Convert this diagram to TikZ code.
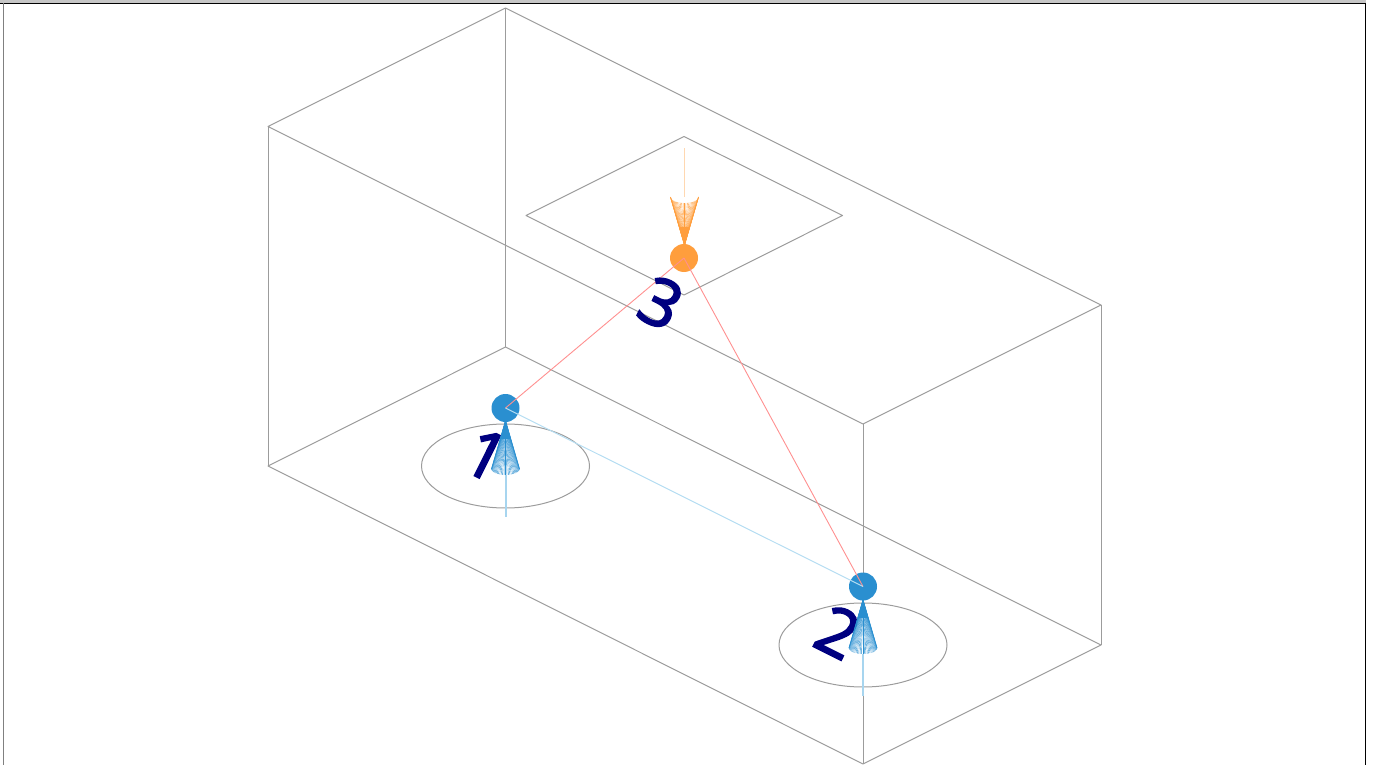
\documentclass[tikz,border=0pt]{standalone}
\usepackage{fontspec}
\setmainfont{Open Sans}
\newfontfamily\digitfont[FakeBold=2.6]{Open Sans}
\definecolor{boxgray}{HTML}{9C9C9C}
\definecolor{sphblue}{HTML}{2A8FD0}
\definecolor{sphorange}{HTML}{FF9E3D}
\definecolor{digitnavy}{HTML}{000080}
\definecolor{redlink}{HTML}{FF9090}
\definecolor{bluelink}{HTML}{B5DDF2}
\tikzset{
  boxline/.style={draw=boxgray,line width=1pt,line join=round},
  sphere/.style={circle,inner sep=0pt,minimum size=28pt,fill=#1},
  digit/.style={text=digitnavy,font=\digitfont\fontsize{66}{66}\selectfont,rotate=-26.5,inner sep=0pt},
  fan/.style={draw=#1,line width=0.4pt},
  stem/.style={draw=#1,line width=1.3pt},
  redline/.style={draw=redlink,line width=0.9pt},
  blueline/.style={draw=bluelink,line width=1pt}
}
\newcommand{\conefan}[4]{% apex x,y; base y; colour
  \foreach \a in {0,6,...,180}{
    \draw[fan=#4] (#1,#2) -- ({#1+14*cos(\a)},{#3+6*sin(\a)});
  }
  \fill[#4] (#1,#2) -- ({#1+5.5},{#2+(#3-#2)*0.38}) -- ({#1-5.5},{#2+(#3-#2)*0.38}) -- cycle;
  \draw[fan=#4,line width=0.8pt] ({#1-14},#3) -- (#1,#2) -- ({#1+14},#3);
}
\begin{document}
\begin{tikzpicture}[x=1pt,y=-1pt]
\useasboundingbox (0,0) rectangle (1374,765);
% window frame
\fill[gray!45] (0,0) rectangle (1366,3);
\draw[black,line width=1pt] (0,3.5) -- (1366,3.5);
\draw[gray,line width=1.2pt] (3.5,3.5) -- (3.5,765);
\draw[black,line width=1.2pt] (1365.5,3) -- (1365.5,765);
% box
\coordinate (bt) at (505.5,8);
\coordinate (lt) at (268,126.5);
\coordinate (rt) at (1101,305);
\coordinate (ft) at (863,424);
\coordinate (bb) at (505.5,347);
\coordinate (lb) at (268,466);
\coordinate (rb) at (1101,645);
\coordinate (fb) at (863,764);
\draw[boxline] (bt) -- (lt) -- (ft) -- (rt) -- cycle;
\draw[boxline] (bb) -- (lb) -- (fb) -- (rb) -- cycle;
\draw[boxline] (bt) -- (bb) (lt) -- (lb) (rt) -- (rb) (ft) -- (fb);
% ceiling panel
\coordinate (pt) at (684,136.5);
\coordinate (pl) at (526,215.5);
\coordinate (pb) at (684,295);
\coordinate (pr) at (842.5,215.5);
\draw[boxline] (pt) -- (pl) -- (pb) -- (pr) -- cycle;
% floor circles
\draw[boxline] (505.5,466) ellipse [x radius=84,y radius=42];
\draw[boxline] (863,645) ellipse [x radius=84,y radius=42];
% spheres
\node[sphere=sphblue] (s1) at (505.5,408) {};
\node[sphere=sphblue] (s2) at (863,586.5) {};
\node[sphere=sphorange] (s3) at (684,258) {};
% links
\draw[redline] (s3.center) -- (s1.center);
\draw[redline] (s3.center) -- (s2.center);
\draw[blueline] (s1.center) -- (s2.center);
% labels
\node[digit] (n1) at (486,455) {1};
\node[digit] (n2) at (838,632) {2};
\node[digit] (n3) at (661,303) {3};
% cones
\conefan{505.5}{421}{469}{sphblue}
\conefan{863}{600}{648}{sphblue}
\conefan{684.5}{245}{197}{sphorange}
\coordinate (e1a) at (506,475); \coordinate (e1b) at (506,517);
\coordinate (e2a) at (863,654); \coordinate (e2b) at (863,696);
\coordinate (e3a) at (684.5,197); \coordinate (e3b) at (684.5,148);
\draw[stem=bluelink!90!sphblue] (e1a) -- (e1b);
\draw[stem=bluelink!90!sphblue] (e2a) -- (e2b);
\draw[stem=sphorange!40!white] (e3a) -- (e3b);
\end{tikzpicture}
\end{document}
